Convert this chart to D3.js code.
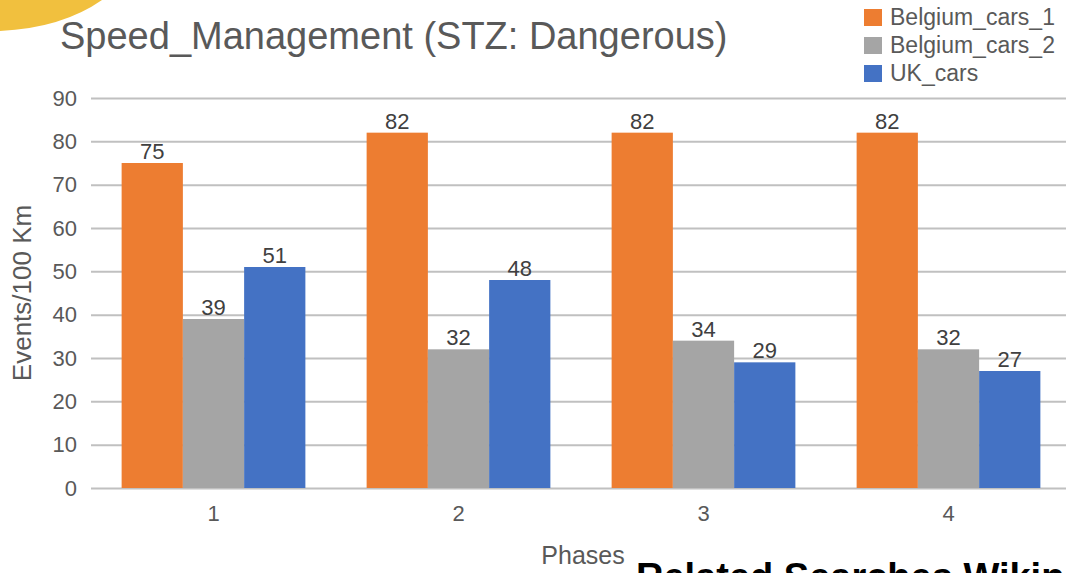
<!DOCTYPE html>
<html>
<head>
<meta charset="utf-8">
<script src="https://cdnjs.cloudflare.com/ajax/libs/d3/7.8.5/d3.min.js"></script>
<style>
  body { margin: 0; background: #fff; }
  svg { display: block; font-family: "Liberation Sans", Arial, sans-serif; }
</style>
</head>
<body>
<script>
// data
var phases = ["1", "2", "3", "4"];
var seriesNames = ["Belgium_cars_1", "Belgium_cars_2", "UK_cars"];
var belgium1 = [75, 82, 82, 82];
var belgium2 = [39, 32, 34, 32];
var ukCars = [51, 48, 29, 27];
var yTicks = [0, 10, 20, 30, 40, 50, 60, 70, 80, 90];
var colors = ["#ED7D31", "#A5A5A5", "#4472C4"];

var svgWidth = 1066, svgHeight = 573;
var plotLeft = 91, plotRight = 1071, plotTop = 98, plotBottom = 488;

var svg = d3.select("body").append("svg")
    .attr("width", svgWidth)
    .attr("height", svgHeight);

// yellow arc in the corner
svg.append("path")
  .attr("d", "M0,0 L102,0 Q62,28 0,31 Z")
  .attr("fill", "#F1C03E");

var rows = phases.map(function(p, i){
  return {phase: p, values: [belgium1[i], belgium2[i], ukCars[i]]};
});

var x0 = d3.scaleBand()
    .domain(phases)
    .range([plotLeft, plotRight])
    .paddingInner(0.25)
    .paddingOuter(0.125);

var x1 = d3.scaleBand()
    .domain(d3.range(seriesNames.length))
    .range([0, x0.bandwidth()]);

var y = d3.scaleLinear()
    .domain([0, 90])
    .range([plotBottom, plotTop]);

// gridlines + y labels
var gy = svg.append("g")
  .attr("transform", "translate(" + plotLeft + ",0)")
  .call(d3.axisLeft(y).tickValues(yTicks).tickSizeInner(-(svgWidth - plotLeft)).tickSizeOuter(0).tickPadding(14));
gy.select(".domain").remove();
gy.selectAll(".tick line").attr("stroke", "#C0C0C0").attr("stroke-width", 2);
gy.selectAll(".tick text").attr("fill", "#595959").attr("font-size", 22);

// x labels
var gx = svg.append("g")
  .attr("transform", "translate(0," + plotBottom + ")")
  .call(d3.axisBottom(x0).tickSize(0).tickPadding(17));
gx.select(".domain").remove();
gx.selectAll(".tick text").attr("fill", "#595959").attr("font-size", 22);

// bars
var groups = svg.selectAll(".grp")
  .data(rows)
  .enter()
  .append("g")
  .attr("class", "grp")
  .attr("transform", function(d){ return "translate(" + x0(d.phase) + ",0)"; });

groups.selectAll("rect")
  .data(function(d){ return d.values; })
  .enter()
  .append("rect")
  .attr("x", function(d, i){ return x1(i); })
  .attr("y", function(d){ return y(d); })
  .attr("width", x1.bandwidth())
  .attr("height", function(d){ return plotBottom - y(d); })
  .attr("fill", function(d, i){ return colors[i]; });

groups.selectAll(".val")
  .data(function(d){ return d.values; })
  .enter()
  .append("text")
  .attr("class", "val")
  .attr("x", function(d, i){ return x1(i) + x1.bandwidth() / 2; })
  .attr("y", function(d){ return y(d) - 4; })
  .attr("text-anchor", "middle")
  .attr("fill", "#404040")
  .attr("font-size", 22)
  .text(function(d){ return d; });

// title
svg.append("text")
  .attr("x", 60)
  .attr("y", 49)
  .attr("fill", "#595959")
  .attr("font-size", 38)
  .text("Speed_Management (STZ: Dangerous)");

// axis titles
svg.append("text")
  .attr("transform", "translate(31," + ((plotTop + plotBottom) / 2) + ") rotate(-90)")
  .attr("text-anchor", "middle")
  .attr("fill", "#595959")
  .attr("font-size", 26)
  .text("Events/100 Km");

svg.append("text")
  .attr("x", 583)
  .attr("y", 564)
  .attr("text-anchor", "middle")
  .attr("fill", "#595959")
  .attr("font-size", 25)
  .text("Phases");

// legend
var legend = svg.selectAll(".leg")
  .data(seriesNames)
  .enter()
  .append("g")
  .attr("class", "leg")
  .attr("transform", function(d, i){ return "translate(864," + (9 + i * 28) + ")"; });

legend.append("rect")
  .attr("width", 18)
  .attr("height", 17)
  .attr("fill", function(d, i){ return colors[i]; });

legend.append("text")
  .attr("x", 26)
  .attr("y", 16)
  .attr("fill", "#595959")
  .attr("font-size", 23)
  .text(function(d){ return d; });

// page text cut off at the bottom
svg.append("text")
  .attr("x", 636)
  .attr("y", 590)
  .attr("fill", "#000")
  .attr("font-weight", "bold")
  .attr("font-size", 38)
  .text("Related Searches Wikipedia");
</script>
</body>
</html>
